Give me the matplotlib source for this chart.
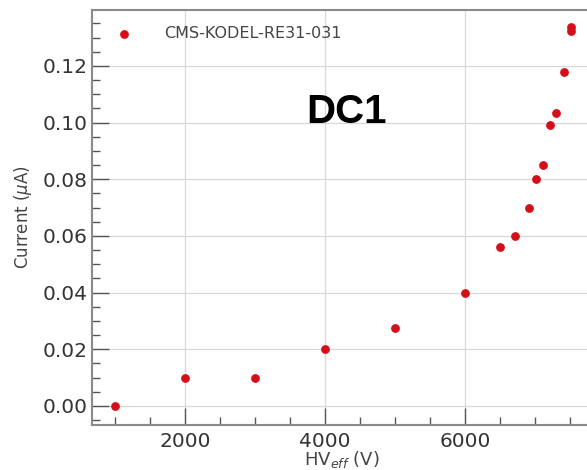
import numpy as np
import matplotlib
matplotlib.use("Agg")
import matplotlib.pyplot as plt
from matplotlib.ticker import MultipleLocator

# HV_eff (V) and current (uA)
hv_eff = [1000, 2000, 3000, 4000, 5000, 6000, 6500, 6720, 6910, 7010,
          7110, 7210, 7300, 7415, 7515, 7515]
current = [0.0, 0.010, 0.010, 0.020, 0.0275, 0.040, 0.056, 0.060, 0.070, 0.080,
           0.085, 0.099, 0.1035, 0.118, 0.1325, 0.1338]
series_label = "CMS-KODEL-RE31-031"

fig = plt.figure(figsize=(5.87, 4.70), dpi=100)
ax = fig.add_axes([0.157, 0.096, 0.85, 0.883])

ax.scatter(hv_eff, current, s=28, color="#d40f1a", label=series_label, zorder=3)

ax.set_xlim(667, 7805)
ax.set_ylim(-0.0067, 0.1398)
ax.xaxis.set_major_locator(MultipleLocator(2000))
ax.xaxis.set_minor_locator(MultipleLocator(500))
ax.yaxis.set_major_locator(MultipleLocator(0.02))
ax.yaxis.set_minor_locator(MultipleLocator(0.005))
ax.yaxis.set_major_formatter(plt.FormatStrFormatter("%.2f"))

ax.grid(True, which="major", color="#d8d8d8", linewidth=0.9)
ax.set_axisbelow(True)
for side in ["top", "bottom", "left", "right"]:
    ax.spines[side].set_color("#8a8a8a")
    ax.spines[side].set_linewidth(1.5)

ax.tick_params(which="both", direction="in", colors="#555555", labelcolor="#333333",
               labelsize=14.5)
ax.tick_params(which="major", length=12, width=1)
ax.tick_params(which="minor", length=6, width=1)
ax.tick_params(axis="x", which="major", pad=5)
ax.tick_params(top=False, right=False, which="both")

ax.set_ylabel(r"Current ($\mu$A)", fontsize=12, color="#444444", labelpad=6)
ax.set_xlabel(r"HV$_{eff}$ (V)", fontsize=13, color="#444444", labelpad=-1)

ax.legend(loc="upper left", frameon=False, fontsize=11.5, markerscale=1.0,
          handletextpad=1.5, borderaxespad=0.6, labelcolor="#444444")

ax.text(3730, 0.1, "DC1", fontsize=29, fontweight="bold", va="baseline",
        family="Liberation Sans", color="black")

fig.savefig("out.png", dpi=100)
